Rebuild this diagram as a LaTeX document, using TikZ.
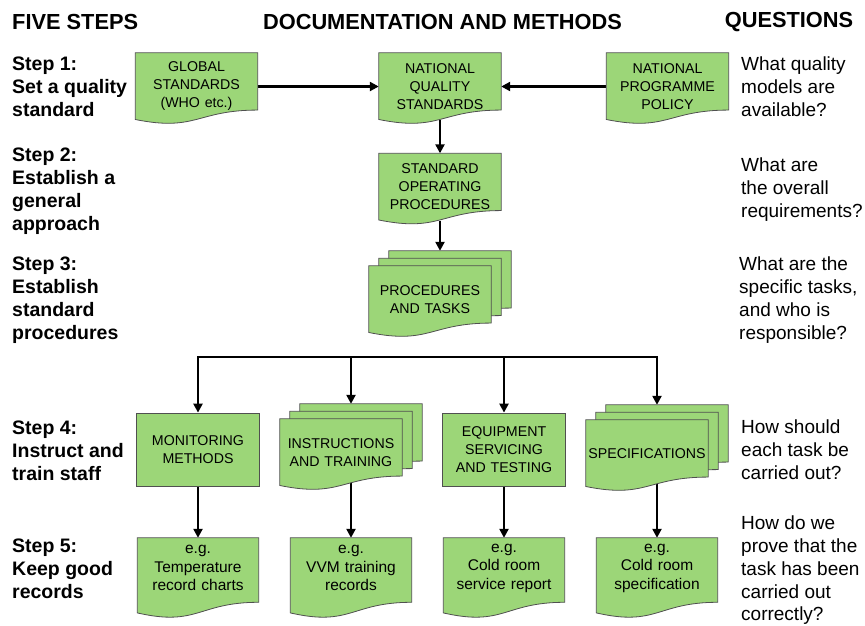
\documentclass[tikz,border=0pt]{standalone}
\usepackage{fontspec}
\setmainfont{Liberation Sans}
\usepackage{xcolor}
\usetikzlibrary{arrows.meta,calc,backgrounds}

\definecolor{boxgreen}{RGB}{156,214,120}
\definecolor{boxline}{RGB}{80,80,80}

% document outline with wavy foot, drawn from a node's corners
\newcommand{\docshape}[2][4pt]{%
  \path[docfill] (#2.north west) -- (#2.north east)
    -- ($(#2.north east)!0.802!([yshift=-#1]#2.south east)$)
    .. controls ($(#2.north)!0.802!([yshift=-#1]#2.south)$) and ($(#2.north)!1.1075!([yshift=-#1]#2.south)$)
    .. ($(#2.north west)!0.934!([yshift=-#1]#2.south west)$) -- cycle;}

\begin{document}
\begin{tikzpicture}[x=1pt, y=-1pt,
    heading/.style={font=\fontsize{21.8}{25}\selectfont\bfseries, inner sep=0pt},
    stepnote/.style={font=\fontsize{19.5}{22.75}\selectfont\bfseries, align=left, inner sep=0pt, anchor=north west},
    question/.style={font=\fontsize{19}{22.75}\selectfont, align=left, inner sep=0pt, anchor=north west},
    docnode/.style={minimum width=122pt, minimum height=67pt, text width=118pt, inner xsep=2pt, inner ysep=0pt, align=center, font=\fontsize{14.2}{18}\selectfont},
    rectbox/.style={draw=boxline, line width=0.8pt, fill=boxgreen, minimum width=123pt, minimum height=73pt, text width=119pt, inner xsep=2pt, inner ysep=0pt, align=center, font=\fontsize{14.2}{18}\selectfont},
    recnode/.style={minimum width=121pt, minimum height=60pt, text width=117pt, inner xsep=2pt, inner ysep=0pt, align=center, font=\fontsize{15.5}{18.5}\selectfont},
    docfill/.style={draw=boxline, line width=0.8pt, fill=boxgreen},
    flow/.style={line width=2.6pt, -{Triangle[length=9pt,width=9pt]}}]
    \useasboundingbox (0,0) rectangle (865,625);

    % column headings
    \node[heading, anchor=west] (h-steps) at (12,22) {FIVE STEPS};
    \node[heading] (h-docs) at (442.5,22) {DOCUMENTATION AND METHODS};
    \node[heading] (h-quest) at (789,22) {QUESTIONS};

    % the five steps
    \node[stepnote] (s1) at (12,57) {Step 1:\\Set a quality\\standard};
    \node[stepnote] (s2) at (12,148) {Step 2:\\Establish a\\general\\approach};
    \node[stepnote] (s3) at (12,257) {Step 3:\\Establish\\standard\\procedures};
    \node[stepnote] (s4) at (12,421) {Step 4:\\Instruct and\\train staff};
    \node[stepnote] (s5) at (12,539) {Step 5:\\Keep good\\records};

    % questions
    \node[question] (q1) at (741,57) {What quality\\models are\\available?};
    \node[question] (q2) at (741,158) {What are\\the overall\\requirements?};
    \node[question] (q3) at (739,257) {What are the\\specific tasks,\\and who is\\responsible?};
    \node[question] (q4) at (741,420) {How should\\each task be\\carried out?};
    \node[question] (q5) at (741,516) {How do we\\prove that the\\task has been\\carried out\\correctly?};

    % documents
    \node[docnode] (gs) at (196.5,86.5) {GLOBAL\\STANDARDS\\(WHO etc.)};
    \node[docnode] (nqs) at (440,86.5) {NATIONAL\\QUALITY\\STANDARDS};
    \node[docnode] (npp) at (667.5,86.5) {NATIONAL\\PROGRAMME\\POLICY};
    \node[docnode] (sop) at (440,187) {STANDARD\\OPERATING\\PROCEDURES};

    \node[docnode] (pt) at (430,299.5) {PROCEDURES\\AND TASKS};
    \node[docnode] (pt-m) at ([xshift=10pt,yshift=7.5pt]pt.center) {};
    \node[docnode] (pt-b) at ([xshift=20pt,yshift=15pt]pt.center) {};

    \node[rectbox] (mon) at (198,449.5) {MONITORING\\METHODS};
    \node[docnode] (ins) at (341,452.5) {INSTRUCTIONS\\AND TRAINING};
    \node[docnode] (ins-m) at ([xshift=10pt,yshift=7.5pt]ins.center) {};
    \node[docnode] (ins-b) at ([xshift=20pt,yshift=15pt]ins.center) {};
    \node[rectbox] (eqp) at (504,449.5) {EQUIPMENT\\SERVICING\\AND TESTING};
    \node[docnode] (spe) at (647,453.5) {SPECIFICATIONS};
    \node[docnode] (spe-m) at ([xshift=10pt,yshift=7.5pt]spe.center) {};
    \node[docnode] (spe-b) at ([xshift=20pt,yshift=15pt]spe.center) {};

    \node[recnode] (rec1) at (198,568) {e.g.\\Temperature\\record charts};
    \node[recnode] (rec2) at (351,568) {e.g.\\VVM training\\records};
    \node[recnode] (rec3) at (504,568) {e.g.\\Cold room\\service report};
    \node[recnode] (rec4) at (657,568) {e.g.\\Cold room\\specification};

    \coordinate (bus) at (440,357);

    \begin{scope}[on background layer]
        \draw[flow] (gs) -- (nqs);
        \draw[flow] (npp) -- (nqs);
        \draw[flow] (nqs) -- (sop);
        \draw[flow] (sop) -- (pt-b.north -| pt-m);

        \draw[flow] (bus) -| (mon);
        \draw[flow] (bus) -| (spe-b.north -| spe-m);
        \draw[flow] (bus -| ins-m) -- (ins-b.north -| ins-m);
        \draw[flow] (bus -| eqp) -- (eqp);

        \draw[flow] (mon) -- (rec1);
        \draw[flow] (ins-m) -- (rec2);
        \draw[flow] (eqp) -- (rec3);
        \draw[flow] (spe-m) -- (rec4);
    \end{scope}

    \begin{scope}[on background layer]
        \foreach \n in {gs,nqs,npp,sop,pt-b,pt-m,pt,ins-b,ins-m,ins,spe-b,spe-m,spe}
            {\docshape{\n}}
        \foreach \n in {rec1,rec2,rec3,rec4}
            {\docshape[20pt]{\n}}
    \end{scope}
\end{tikzpicture}
\end{document}
